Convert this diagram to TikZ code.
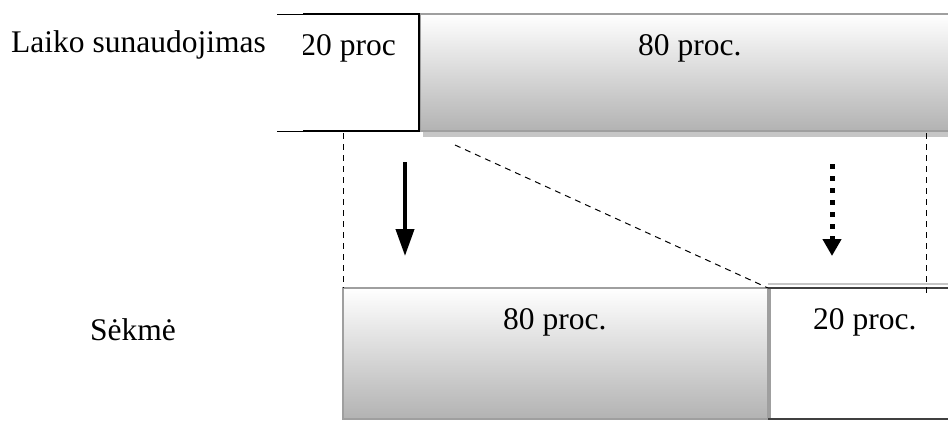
\documentclass[tikz,border=0pt]{standalone}
\usepackage{fontspec}
\setmainfont{Liberation Serif}
\usetikzlibrary{arrows.meta}
\begin{document}
\begin{tikzpicture}[x=1pt,y=-1pt,
  lbl/.style={font=\fontsize{31.5}{38}\selectfont, inner sep=0pt},
  box/.style={anchor=north west, inner sep=0pt, outer sep=0pt},
  shadebox/.style={box, top color=white, bottom color=gray!60, draw=gray!75, line width=2pt},
  guide/.style={draw=black, line width=1pt, dash pattern=on 6pt off 5pt},
  bigarrow/.style={draw=black, line width=4pt, -{Triangle[length=27pt,width=18pt]}},
  dotarrow/.style={draw=black, line width=5pt, dash pattern=on 5pt off 7pt,
    -{Triangle[length=17pt,width=18pt]}}]
\useasboundingbox (0,0) rectangle (948,421);

% --- time usage row ---
\fill[gray!45] (423,131) rectangle (948,137);
\node[shadebox, minimum width=532pt, minimum height=117pt] (t80) at (420,14) {};
\node[box, minimum width=116pt, minimum height=117pt] (t20) at (303,14) {};
\draw[black, line width=1pt] (t20.north west) -- ++(-26,0);
\draw[black, line width=1pt] (t20.south west) -- ++(-26,0);
\draw[black, line width=2pt] (t20.north west) -- (t20.north east)
  -- (t20.south east) -- (t20.south west);
\begin{scope}
  \clip (t20.north west) rectangle (t20.south east);
  \node[lbl, anchor=base east] (t20txt) at (396,55) {20 proc};
\end{scope}
\node[lbl, anchor=base west] (t80txt) at (638,55) {80 proc.};
\node[lbl, anchor=base west] (rowA) at (11,52) {Laiko sunaudojimas};

% --- success row ---
\node[shadebox, minimum width=425pt, minimum height=131pt] (b80) at (343,288) {};
\node[box, minimum width=182pt, minimum height=131pt] (b20) at (768,288) {};
\draw[gray!45, line width=2pt] ([yshift=4pt]b20.north west) -- ([yshift=4pt]b20.north east);
\draw[gray!75, line width=3pt] ([xshift=1.5pt]b20.north west) -- ([xshift=1.5pt]b20.south west);
\draw[black!75, line width=2pt] (b20.north west) -- (b20.north east);
\draw[black!75, line width=2pt] (b20.south west) -- (b20.south east);
\node[lbl, anchor=base west] (b80txt) at (503,329) {80 proc.};
\node[lbl, anchor=base west] (b20txt) at (813,329) {20 proc.};
\node[lbl, anchor=base west] (rowB) at (90,340) {Sėkmė};

% --- guide lines between the rows ---
\coordinate (gL) at (343,133);
\coordinate (gR) at (926,133);
\coordinate (gD) at (455,145);
\draw[guide] (gL) -- (b80.north west);
\draw[guide] (gR) -- (926,295);
\draw[guide] (gD) -- (b20.north west);

% --- arrows ---
\coordinate (a1s) at (405,162);
\coordinate (a1e) at (405,256);
\coordinate (a2s) at (832,164);
\coordinate (a2e) at (832,256);
\draw[bigarrow] (a1s) -- (a1e);
\draw[dotarrow] (a2s) -- (a2e);
\end{tikzpicture}
\end{document}
